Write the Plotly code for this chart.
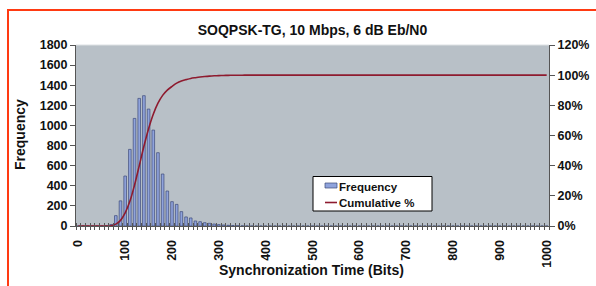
import numpy as np
import plotly.graph_objects as go

# ---- data ----
sync_bits = list(range(0, 1001, 10))          # histogram bins (bits)
observed_bins = [60, 70, 80, 90, 100, 110, 120, 130, 140, 150, 160, 170, 180, 190,
                 200, 210, 220, 230, 240, 250, 260, 270, 280, 290, 300, 310, 320,
                 330, 340, 350, 360]
observed_counts = [3, 15, 103, 250, 497, 762, 1070, 1269, 1296, 1163, 954, 729, 517,
                   348, 242, 215, 143, 90, 80, 50, 43, 33, 27, 20, 14, 10, 7, 5, 3, 2, 1]
y_ticks_freq = list(range(0, 1801, 200))
x_tick_labels = list(range(0, 1001, 100))
pct_ticks = [0, 0.2, 0.4, 0.6, 0.8, 1.0, 1.2]
series_names = ["Frequency", "Cumulative %"]

counts_by_bin = dict(zip(observed_bins, observed_counts))
frequency = [counts_by_bin.get(b, 0) for b in sync_bits]
cumulative = np.cumsum(frequency) / np.sum(frequency)

# ---- layout geometry (pixels) ----
W, H = 596, 286
L, R, T, B = 76, 549, 45, 226
pw, ph = R - L, B - T
def px(xp):
    return (xp - L) / pw
def py(yp):
    return (B - yp) / ph

BAR_FILL, BAR_EDGE, LINE_COL = "#8fa3dc", "#3d4b7a", "#8e1b2f"
FONT = "Liberation Sans, Arial, sans-serif"
title_font = dict(family=FONT, size=14, color="#111111", weight="bold")
tick_font = dict(family=FONT, size=12.5, color="#111111", weight="bold")
leg_font = dict(family=FONT, size=11.5, color="#111111", weight="bold")

fig = go.Figure()
fig.add_trace(go.Bar(
    x=sync_bits, y=frequency, name=series_names[0], width=5.6,
    marker=dict(color=BAR_FILL, line=dict(color=BAR_EDGE, width=0.7)),
))
fig.add_trace(go.Scatter(
    x=sync_bits, y=cumulative, name=series_names[1], yaxis="y2", mode="lines",
    line=dict(color=LINE_COL, width=1.6, shape="spline", smoothing=0.8),
))
# helper trace for crossing minor ticks on the category axis
fig.add_trace(go.Scatter(x=[0], y=[0], xaxis="x2", yaxis="y", mode="markers",
                         marker=dict(opacity=0), showlegend=False, hoverinfo="skip"))

# legend box (drawn to match the reference's compact legend)
lx0, lx1, ly0, ly1 = 313, 432, 176.5, 211
legend_shapes = [
    dict(type="rect", xref="paper", yref="paper", x0=px(lx0), x1=px(lx1),
         y0=py(ly1), y1=py(ly0), fillcolor="white", line=dict(color="#000000", width=1),
         layer="above"),
    dict(type="rect", xref="paper", yref="paper", x0=px(325), x1=px(337),
         y0=py(188), y1=py(183), fillcolor=BAR_FILL,
         line=dict(color=BAR_EDGE, width=0.7), layer="above"),
    dict(type="line", xref="paper", yref="paper", x0=px(325), x1=px(337),
         y0=py(202.5), y1=py(202.5), line=dict(color=LINE_COL, width=1.6), layer="above"),
]
legend_texts = [
    dict(text=series_names[0], x=px(337), y=py(186.5), xref="paper", yref="paper",
         showarrow=False, font=leg_font, xanchor="left", yanchor="middle"),
    dict(text=series_names[1], x=px(337), y=py(202.5), xref="paper", yref="paper",
         showarrow=False, font=leg_font, xanchor="left", yanchor="middle"),
]

fig.update_layout(
    width=W, height=H,
    margin=dict(l=L, r=W - R, t=T, b=H - B, autoexpand=False),
    paper_bgcolor="white", plot_bgcolor="#b8c0c7",
    showlegend=False,
    title=dict(text="SOQPSK-TG, 10 Mbps, 6 dB Eb/N0", font=title_font,
               x=((L + R) / 2) / W, xanchor="center", y=1 - 30 / H, yanchor="middle"),
    xaxis=dict(range=[-5, 1005], tickmode="array", tickvals=x_tick_labels,
               ticktext=[str(v) for v in x_tick_labels], tickangle=-90,
               ticks="outside", ticklen=8, tickcolor="rgba(0,0,0,0)",
               tickfont=tick_font, showline=True, linecolor="#555555", linewidth=1,
               showgrid=False, zeroline=False, fixedrange=True,
               minor=dict(tickmode="linear", tick0=5, dtick=10, ticks="outside",
                          ticklen=3, tickcolor="#555555", tickwidth=1, showgrid=False)),
    xaxis2=dict(overlaying="x", matches="x", range=[-5, 1005], showticklabels=False,
                showgrid=False, zeroline=False, showline=False, ticks="",
                minor=dict(tickmode="linear", tick0=5, dtick=10, ticks="inside",
                           ticklen=3, tickcolor="#555555", tickwidth=1, showgrid=False)),
    yaxis=dict(range=[0, 1800], tickmode="array", tickvals=y_ticks_freq,
               ticks="outside", ticklen=5, tickcolor="#555555", tickfont=tick_font,
               showline=True, linecolor="#555555", showgrid=False, zeroline=False),
    yaxis2=dict(range=[0, 1.2], overlaying="y", side="right", tickmode="array",
                tickvals=pct_ticks, tickformat=".0%", ticks="outside", ticklen=5,
                tickcolor="#555555", tickfont=tick_font, showline=True,
                linecolor="#555555", showgrid=False, zeroline=False),
    bargap=0.4,
    annotations=[
        dict(text="Synchronization Time (Bits)", x=px(311), y=py(270), xref="paper",
             yref="paper", showarrow=False, font=title_font, xanchor="center",
             yanchor="middle"),
        dict(text="Frequency", x=px(20), y=py(135), xref="paper", yref="paper",
             showarrow=False, font=title_font, textangle=-90, xanchor="center",
             yanchor="middle"),
    ] + legend_texts,
    shapes=[
        dict(type="line", xref="paper", yref="paper", x0=px(8), x1=px(8),
             y0=py(10), y1=py(290), line=dict(color="#ff3a12", width=2)),
        dict(type="line", xref="paper", yref="paper", x0=px(7), x1=px(600),
             y0=py(10), y1=py(10), line=dict(color="#ff3a12", width=2)),
        dict(type="line", xref="paper", yref="paper", x0=0, x1=1, y0=1, y1=1,
             line=dict(color="#dde1e4", width=1)),
    ] + legend_shapes,
)

fig.write_html("out.html", config={"displayModeBar": False},
               post_script="document.body.style.margin='0';")
